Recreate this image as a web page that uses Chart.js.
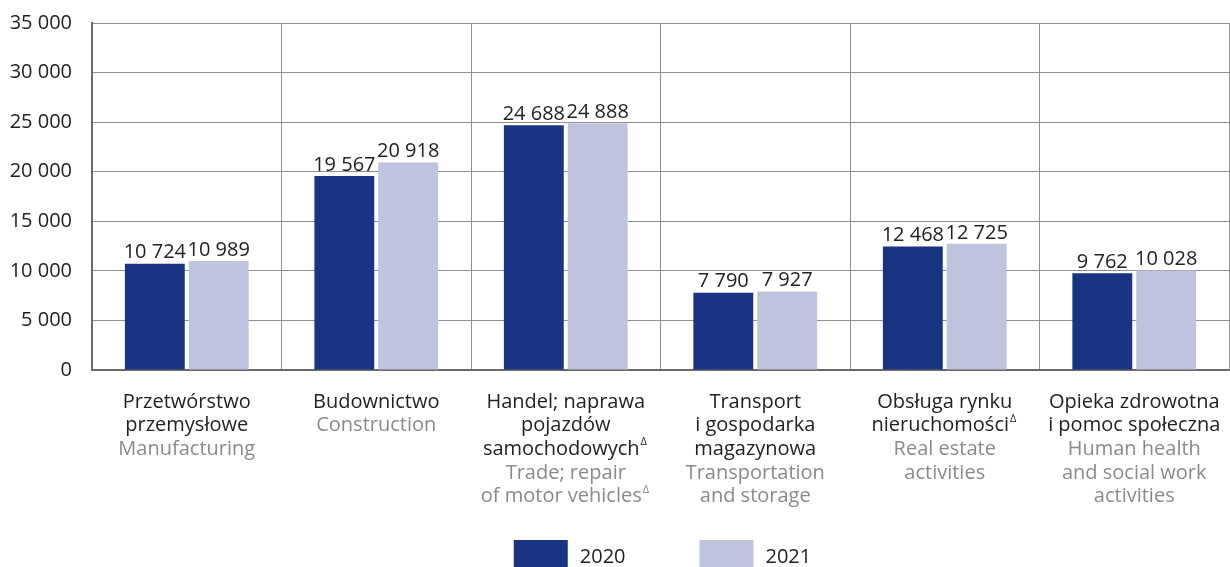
<!DOCTYPE html>
<html>
<head>
<meta charset="utf-8">
<script src="https://cdn.jsdelivr.net/npm/chart.js@4/dist/chart.umd.min.js"></script>
<style>
    body { margin: 0; background: #ffffff; }
    #box { width: 1230px; height: 567px; position: relative; }
</style>
</head>
<body>
<div id="box"><canvas id="chartBranze"></canvas></div>
<script>
const categorias = ["Przetwórstwo przemysłowe", "Budownictwo", "Handel; naprawa pojazdów samochodowych", "Transport i gospodarka magazynowa", "Obsługa rynku nieruchomości", "Opieka zdrowotna i pomoc społeczna"]
const linhasPl = [
    ["Przetwórstwo", "przemysłowe"],
    ["Budownictwo"],
    ["Handel; naprawa", "pojazdów", "samochodowych^"],
    ["Transport", "i gospodarka", "magazynowa"],
    ["Obsługa rynku", "nieruchomości^"],
    ["Opieka zdrowotna", "i pomoc społeczna"]
]
const linhasEn = [
    ["Manufacturing"],
    ["Construction"],
    ["Trade; repair", "of motor vehicles^"],
    ["Transportation", "and storage"],
    ["Real estate", "activities"],
    ["Human health", "and social work", "activities"]
]
const anos = ["2020", "2021"]
const valores2020 = [10724, 19567, 24688, 7790, 12468, 9762]
const valores2021 = [10989, 20918, 24888, 7927, 12725, 10028]
const ticksY = [0, 5000, 10000, 15000, 20000, 25000, 30000, 35000]

const FONTE = "'Open Sans', 'Noto Sans', sans-serif"
const TAM = 20
const corEscura = '#222222'
const corCinza = '#8a8a8a'

function formatar(v) {
    return String(v).replace(/\B(?=(\d{3})+(?!\d))/g, ' ')
}

// escreve uma linha, e se terminar com ^ coloca o triangulo pequeno em cima
function escreverLinha(ctx, texto, x, y) {
    let delta = false
    if (texto.endsWith('^')) {
        delta = true
        texto = texto.slice(0, -1)
    }
    ctx.font = TAM + 'px ' + FONTE
    const w = ctx.measureText(texto).width
    const wd = delta ? 9 : 0
    const x0 = x - (w + wd) / 2
    ctx.textAlign = 'left'
    ctx.textBaseline = 'middle'
    ctx.fillText(texto, x0, y)
    if (delta) {
        ctx.font = '11px ' + FONTE
        ctx.fillText('Δ', x0 + w + 1, y - 7)
    }
}

const pluginTextos = {
    id: 'textos',
    afterDatasetsDraw(chart) {
        const ctx = chart.ctx
        ctx.save()
        ctx.fillStyle = corEscura
        ctx.font = TAM + 'px ' + FONTE
        ctx.textAlign = 'center'
        ctx.textBaseline = 'bottom'
        chart.data.datasets.forEach((ds, i) => {
            chart.getDatasetMeta(i).data.forEach((bar, j) => {
                ctx.fillText(formatar(ds.data[j]), bar.x, bar.y - 1)
            })
        })
        ctx.restore()
    },
    afterDraw(chart) {
        const ctx = chart.ctx
        const x = chart.scales.x
        const area = chart.chartArea
        ctx.save()
        for (let i = 0; i < categorias.length; i++) {
            const cx = x.getPixelForTick(i)
            let y = area.bottom + 32
            ctx.fillStyle = corEscura
            linhasPl[i].forEach(l => { escreverLinha(ctx, l, cx, y); y += 23.6 })
            ctx.fillStyle = corCinza
            linhasEn[i].forEach(l => { escreverLinha(ctx, l, cx, y); y += 23.6 })
        }

        // legenda
        ctx.font = TAM + 'px ' + FONTE
        const caixaW = 54, caixaH = 30, gap = 12, espaco = 74
        const larguras = anos.map(a => caixaW + gap + ctx.measureText(a).width)
        const total = larguras[0] + larguras[1] + espaco
        let lx = (area.left + area.right) / 2 - total / 2 + 2
        const ly = 540
        chart.data.datasets.forEach((ds, i) => {
            ctx.fillStyle = ds.backgroundColor
            ctx.fillRect(lx, ly, caixaW, caixaH)
            ctx.fillStyle = corEscura
            ctx.textAlign = 'left'
            ctx.textBaseline = 'middle'
            ctx.fillText(ds.label, lx + caixaW + gap, ly + 17)
            lx += larguras[i] + espaco
        })
        ctx.restore()
    }
}

new Chart(document.getElementById('chartBranze'), {
    type: 'bar',
    data: {
        labels: categorias,
        datasets: [
            {
                label: anos[0],
                data: valores2020,
                backgroundColor: '#183483',
                categoryPercentage: 0.674,
                barPercentage: 0.9375
            },
            {
                label: anos[1],
                data: valores2021,
                backgroundColor: '#bfc3de',
                categoryPercentage: 0.674,
                barPercentage: 0.9375
            }
        ]
    },
    options: {
        responsive: true,
        maintainAspectRatio: false,
        animation: false,
        layout: {
            padding: { top: 23, right: 1, left: 0, bottom: 0 }
        },
        plugins: {
            legend: { display: false },
            tooltip: { enabled: false }
        },
        scales: {
            x: {
                ticks: { display: false },
                grid: {
                    color: '#8f8f8f',
                    lineWidth: 1,
                    drawTicks: false,
                    offset: true
                },
                border: { color: '#6a6a6a', width: 2 },
                afterFit: (s) => { s.height = 197; s.paddingLeft = 0; s.paddingRight = 0 }
            },
            y: {
                min: 0,
                max: 35000,
                afterBuildTicks: (s) => { s.ticks = ticksY.map(v => ({ value: v })) },
                ticks: {
                    color: corEscura,
                    padding: 20,
                    font: { size: TAM, family: FONTE },
                    callback: (v) => formatar(v)
                },
                grid: {
                    color: '#8f8f8f',
                    lineWidth: 1,
                    drawTicks: false
                },
                border: { color: '#6a6a6a', width: 2 },
                afterFit: (s) => { s.width = 92; s.paddingTop = 0; s.paddingBottom = 0 }
            }
        }
    },
    plugins: [pluginTextos]
})
</script>
</body>
</html>
